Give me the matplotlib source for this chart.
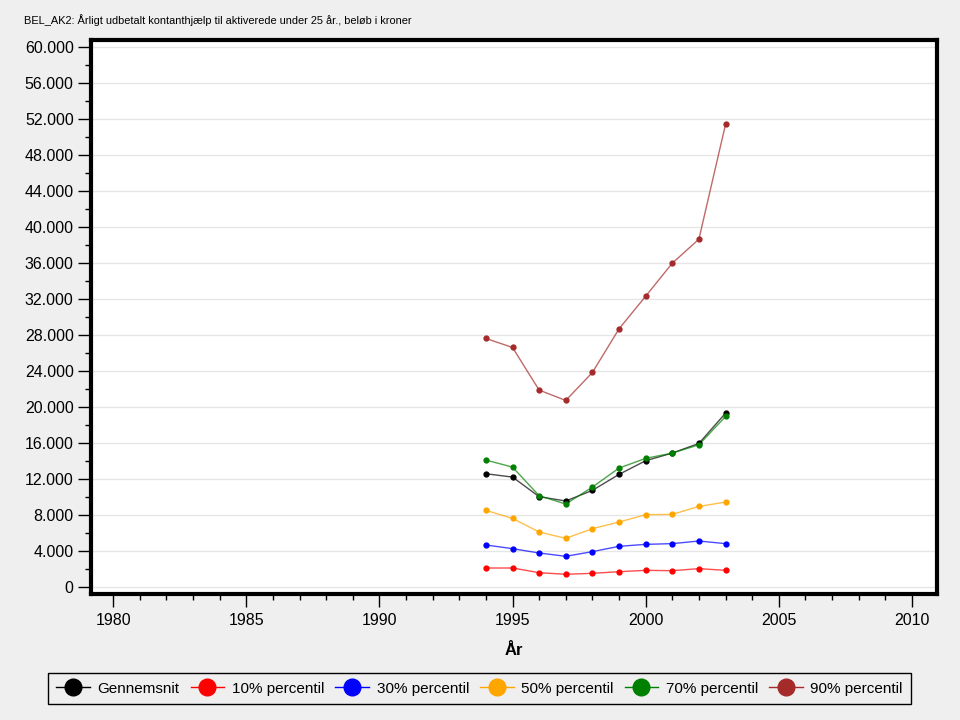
import matplotlib
matplotlib.use("Agg")
import matplotlib.pyplot as plt
from matplotlib.ticker import MultipleLocator, FuncFormatter
from matplotlib.lines import Line2D

years = [1994, 1995, 1996, 1997, 1998, 1999, 2000, 2001, 2002, 2003]
gennemsnit = [12590, 12220, 10040, 9560, 10740, 12520, 14040, 14890, 15960, 19330]
p10 = [2110, 2110, 1590, 1410, 1520, 1700, 1850, 1810, 2040, 1850]
p30 = [4670, 4260, 3780, 3410, 3930, 4520, 4740, 4820, 5110, 4820]
p50 = [8520, 7630, 6110, 5410, 6480, 7220, 8040, 8070, 8960, 9440]
p70 = [14110, 13330, 10150, 9220, 11110, 13220, 14300, 14890, 15810, 18960]
p90 = [27630, 26630, 21890, 20740, 23850, 28700, 32330, 36000, 38670, 51440]

series_names = ["Gennemsnit", "10% percentil", "30% percentil", "50% percentil", "70% percentil", "90% percentil"]
series_values = [gennemsnit, p10, p30, p50, p70, p90]
colors = ["#000000", "#ff0000", "#0000ff", "#ffa500", "#008000", "#a52a2a"]

title = "BEL_AK2: Årligt udbetalt kontanthjælp til aktiverede under 25 år., beløb i kroner"
xlabel = "År"

plt.rcParams['font.family'] = ['Liberation Sans', 'DejaVu Sans']

fig = plt.figure(figsize=(9.6, 7.2), dpi=100, facecolor="#efefef")
ax = fig.add_axes([0.0948, 0.175, 0.8812, 0.769])
ax.set_facecolor("white")

for name, vals, c in zip(series_names, series_values, colors):
    ax.plot(years, vals, color=c, lw=1.0, alpha=0.7, zorder=3)
    ax.plot(years, vals, color=c, lw=0, marker="o", markersize=3.5, zorder=4)

ax.set_xlim(1979.17, 2010.94)
ax.set_ylim(-780, 60780)
ax.yaxis.set_major_locator(MultipleLocator(4000))
ax.yaxis.set_minor_locator(MultipleLocator(2000))
ax.xaxis.set_major_locator(MultipleLocator(5))
ax.xaxis.set_minor_locator(MultipleLocator(1))
ax.yaxis.set_major_formatter(FuncFormatter(lambda v, p: f"{int(round(v)):,}".replace(",", ".")))
ax.xaxis.set_major_formatter(FuncFormatter(lambda v, p: f"{int(round(v))}"))

ax.grid(axis="y", which="major", color="#e6e6e6", lw=1, zorder=0)
ax.set_axisbelow(True)

ax.tick_params(axis="both", which="major", direction="out", length=9.5, width=1, labelsize=11.5, colors="black", pad=3)
ax.tick_params(axis="both", which="minor", direction="out", length=4.5, width=1)
ax.tick_params(axis="x", which="major", pad=4)

for s in ax.spines.values():
    s.set_linewidth(3)
    s.set_color("black")

ax.set_xlabel(xlabel, fontsize=12, fontweight="bold", labelpad=11)
fig.text(24/960, 1-20/720, title, fontsize=7.9, ha="left", va="center")

handles = [Line2D([0], [0], color=c, lw=1, marker="o", markersize=12, markerfacecolor=c, markeredgecolor=c)
           for c in colors]
leg = fig.legend(handles, series_names, loc="center", bbox_to_anchor=(0.4995, 0.0437), ncol=6,
                 fontsize=11, frameon=True, fancybox=False, edgecolor="black", facecolor="#efefef",
                 handlelength=2.2, handletextpad=0.5, columnspacing=0.72, borderpad=0.55)
leg.get_frame().set_linewidth(1)
leg.get_frame().set_alpha(None)

fig.savefig("out.png", dpi=100, facecolor=fig.get_facecolor())
